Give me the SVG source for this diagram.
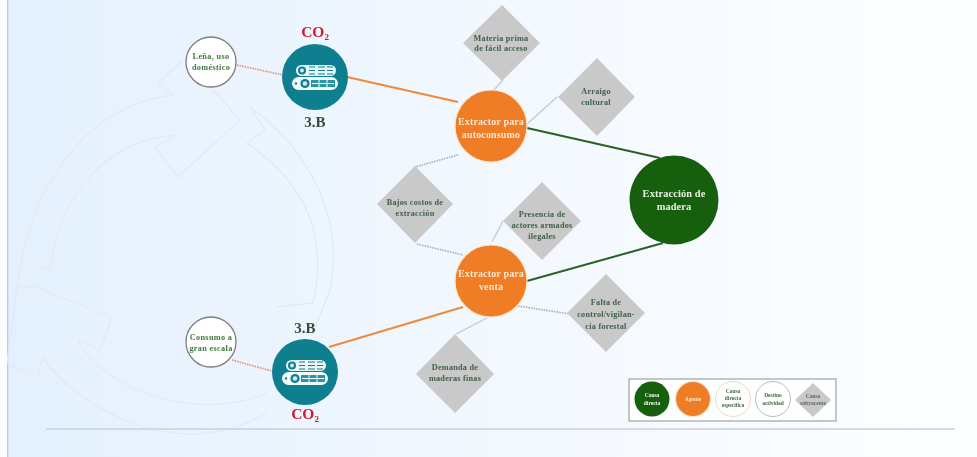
<svg xmlns="http://www.w3.org/2000/svg" width="977" height="457" viewBox="0 0 977 457">
<style>
text{font-family:"Liberation Serif","Times New Roman",serif;text-anchor:middle;font-weight:bold}
.d{fill:#c9c9c9}
.dt{fill:#40604a;font-size:8.2px;letter-spacing:.25px}
.w{fill:#fff;stroke:#7d7d7d;stroke-width:1.3}
.wt{fill:#3f7a3a;font-size:8.2px;letter-spacing:.35px}
.o{fill:#ee7d26;stroke:#fbe3cc;stroke-width:1.2}
.ot{fill:#fbe6cf;font-size:10px;letter-spacing:.15px}
.g{fill:#17610f}
.gt{fill:#eaf2e6;font-size:10.400px;letter-spacing:.1px}
.t{fill:#0d7f8e}
.co{fill:#d5182c;font-size:15.500px}
.lb{fill:#3d4a3d;font-size:15px}
.dot{fill:none;stroke:#a9b3c4;stroke-width:1.700;stroke-dasharray:1.600 1}
.sol{fill:none;stroke:#c3cbd8;stroke-width:1.400}
.dor{fill:none;stroke:#e2987a;stroke-width:1.700;stroke-dasharray:1.600 1}
.lo{fill:none;stroke:#ee8a3c;stroke-width:2}
.lg{fill:none;stroke:#2b6125;stroke-width:2}
.wm{fill:none;stroke:#e0eaf6;stroke-width:1.300}
.lt{font-size:5.500px}
</style>
<defs>
<linearGradient id="bg" x1="0" y1="0" x2="1" y2="0"><stop offset="0" stop-color="#e4f0fe"/><stop offset="0.25" stop-color="#ebf4fe"/><stop offset="0.55" stop-color="#f4f9ff"/><stop offset="1" stop-color="#fdfeff"/></linearGradient>
<filter id="soft" x="-2%" y="-2%" width="104%" height="104%"><feGaussianBlur stdDeviation="0.55"/></filter>
<g id="logs">
<rect x="-19" y="-12" width="40" height="11" rx="5.500" fill="#e8f6f8"/>
<circle cx="-13" cy="-6.500" r="4" fill="#0d7f8e"/><circle cx="-13" cy="-6.500" r="2" fill="#cfeef2"/>
<path d="M-6-10h6M-6-6.500h6M-6-3h6M3-10h7M3-6.500h7M3-3h7M12-10h6M12-6.500h6M12-3h6" stroke="#0d7f8e" stroke-width="1"/>
<rect x="-23" y="0" width="46" height="13" rx="6.500" fill="#f4fbfc"/>
<circle cx="-10" cy="6.500" r="4.600" fill="#0d7f8e"/><circle cx="-10" cy="6.500" r="2.300" fill="#cfeef2"/><circle cx="-19" cy="6.500" r="1.200" fill="#0d7f8e"/>
<path d="M-4 3h24v7h-24z" fill="#2a96a4"/><path d="M-3 6.500h22M4 3v7M12 3v7" stroke="#fff" stroke-width="1"/>
</g>
</defs>
<rect width="977" height="457" fill="#fbfdff"/>
<rect x="8" width="969" height="457" fill="url(#bg)"/>
<rect x="7" width="1.300" height="457" fill="#bccada"/>
<g filter="url(#soft)">
<g id="watermark">
<path class="wm" d="M183 60 L158 83 L173 95 C90 105 30 180 17 287 L35 287 L112 317 L100 350 L78 340 C100 385 190 425 267 393 M17 287 L7 363 L37 377 L43 358 C80 410 180 465 267 413"/>
<path class="wm" d="M33 262 L50 270 C60 190 110 140 175 135 L155 148 L178 177 L240 120 L213 90 M250 107 L265 130 L247 143 C300 180 330 230 313 303 L277 307 M250 107 C310 150 345 220 330 290 L315 327"/>
</g>
<rect x="46" y="428.300" width="909" height="1.500" fill="#c6d1df"/>
<g id="connectors">
<path class="dor" d="M237 65 L283 75"/>
<path class="dor" d="M232 360 L272 371"/>
<path class="lo" d="M347 77 L458 102"/>
<path class="lo" d="M329 347 L463 307"/>
<path class="lg" d="M527 128 L660 158"/>
<path class="lg" d="M527 281 L663 243"/>
<path class="sol" d="M503 80 L492 92"/>
<path class="sol" d="M527 124 L557 97"/>
<path class="dot" d="M458 155 L415 167"/>
<path class="dot" d="M417 244 L463 255"/>
<path class="sol" d="M492 242 L503 221"/>
<path class="dot" d="M518 306 L570 314"/>
<path class="sol" d="M487 318 L456 334"/>
</g>
<g id="n-lena"><circle class="w" cx="211" cy="62" r="25"/><text class="wt" x="211" y="59">Leña, uso</text><text class="wt" x="211" y="70">doméstico</text></g>
<g id="n-consumo"><circle class="w" cx="211" cy="342" r="25"/><text class="wt" x="211" y="340">Consumo a</text><text class="wt" x="211" y="351">gran escala</text></g>
<g id="n-3b-top"><circle class="t" cx="315" cy="77" r="33"/><use href="#logs" x="315" y="77"/><text class="co" x="315" y="37">CO<tspan font-size="9" dy="3">2</tspan></text><text class="lb" x="315" y="127">3.B</text></g>
<g id="n-3b-bottom"><circle class="t" cx="305" cy="372" r="33"/><use href="#logs" x="305" y="372"/><text class="lb" x="305" y="333">3.B</text><text class="co" x="305" y="419">CO<tspan font-size="9" dy="3">2</tspan></text></g>
<g id="n-auto"><circle class="o" cx="491" cy="126" r="36"/><text class="ot" x="491" y="125">Extractor para</text><text class="ot" x="491" y="138">autoconsumo</text></g>
<g id="n-venta"><circle class="o" cx="491" cy="281" r="36"/><text class="ot" x="491" y="277">Extractor para</text><text class="ot" x="491" y="290">venta</text></g>
<g id="n-ext"><circle class="g" cx="674" cy="200" r="44.500"/><text class="gt" x="674" y="197">Extracción de</text><text class="gt" x="674" y="210">madera</text></g>
<g id="n-materia"><path class="d" d="M502 5 L540 43 L502 81 L463 43Z"/><text class="dt" x="501" y="41">Materia prima</text><text class="dt" x="501" y="51">de fácil acceso</text></g>
<g id="n-amigo"><path class="d" d="M597 58 L635 97 L597 136 L558 97Z"/><text class="dt" x="596" y="94">Arraigo</text><text class="dt" x="596" y="105">cultural</text></g>
<g id="n-bajos"><path class="d" d="M415 166 L453 204 L415 243 L377 204Z"/><text class="dt" x="415" y="205">Bajos costos de</text><text class="dt" x="415" y="216">extracción</text></g>
<g id="n-presencia"><path class="d" d="M542 182 L581 221 L542 260 L503 221Z"/><text class="dt" x="542" y="217">Presencia de</text><text class="dt" x="542" y="228">actores armados</text><text class="dt" x="542" y="239">ilegales</text></g>
<g id="n-falta"><path class="d" d="M606 274 L645 313 L606 352 L567 313Z"/><text class="dt" x="606" y="305">Falta de</text><text class="dt" x="606" y="317">control/vigilan-</text><text class="dt" x="606" y="329">cia forestal</text></g>
<g id="n-demanda"><path class="d" d="M455 334 L494 374 L455 413 L416 374Z"/><text class="dt" x="455" y="370">Demanda de</text><text class="dt" x="455" y="381">maderas finas</text></g>
<g id="legend">
<rect x="629" y="379" width="207" height="42" fill="#fdfefe" stroke="#a9a9a9" stroke-width="1.300"/>
<circle class="g" cx="652" cy="399" r="17.500"/><text class="lt" x="652" y="397" fill="#f1f5ee">Causa</text><text class="lt" x="652" y="405" fill="#f1f5ee">directa</text>
<circle class="o" cx="693" cy="399" r="17.500"/><text class="lt" x="693" y="401" fill="#fbe6cf">Agente</text>
<circle cx="733" cy="399" r="17.500" fill="#fff" stroke="#ecd9c8" stroke-width="1"/><text class="lt" x="733" y="393" fill="#4a6b4a">Causa</text><text class="lt" x="733" y="400" fill="#4a6b4a">directa</text><text class="lt" x="733" y="407" fill="#4a6b4a">específica</text>
<circle cx="773" cy="399" r="17.500" fill="#fff" stroke="#b8bdc4" stroke-width="1"/><text class="lt" x="773" y="397" fill="#4a6b4a">Destino</text><text class="lt" x="773" y="405" fill="#4a6b4a">actividad</text>
<path class="d" d="M813 383 L831 400 L813 417 L795 400Z"/><text class="lt" x="813" y="398" fill="#5d6b5d">Causa</text><text class="lt" x="813" y="405" fill="#5d6b5d">subyacente</text>
</g>
</g>
</svg>
